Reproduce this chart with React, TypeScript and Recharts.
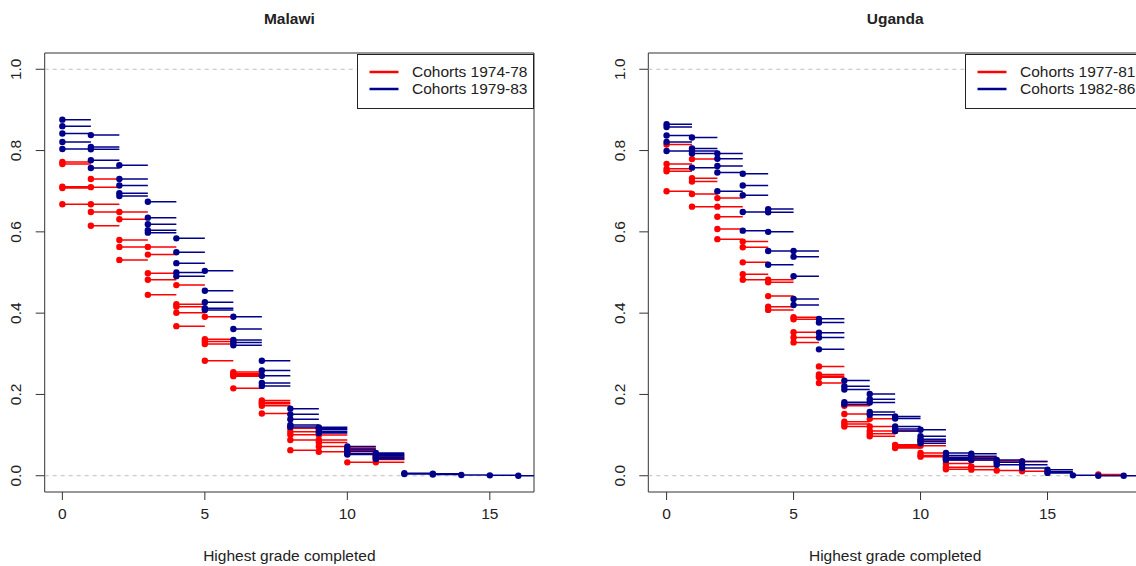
import React from 'react';
import { ComposedChart, Line, XAxis, YAxis, ReferenceLine, ReferenceArea, Legend } from 'recharts';

const FONT = "'Liberation Sans', Arial, Helvetica, sans-serif";

// Survival proportions by highest grade completed (index = grade), one value per birth-year cohort
const malawiOlder: number[][] = [
  [0.772, 0.767, 0.711, 0.708, 0.668],
  [0.730, 0.710, 0.668, 0.649, 0.615],
  [0.649, 0.631, 0.580, 0.563, 0.531],
  [0.563, 0.544, 0.498, 0.482, 0.445],
  [0.469, 0.422, 0.416, 0.401, 0.368],
  [0.391, 0.336, 0.330, 0.324, 0.283],
  [0.255, 0.251, 0.248, 0.245, 0.215],
  [0.185, 0.180, 0.177, 0.172, 0.153],
  [0.117, 0.108, 0.101, 0.088, 0.063],
  [0.100, 0.088, 0.082, 0.072, 0.059],
  [0.068, 0.064, 0.060, 0.055, 0.033],
  [0.052, 0.048, 0.044, 0.040, 0.033],
];
const malawiYounger: number[][] = [
  [0.876, 0.860, 0.842, 0.821, 0.804],
  [0.838, 0.809, 0.803, 0.776, 0.757],
  [0.764, 0.730, 0.714, 0.695, 0.688],
  [0.674, 0.635, 0.619, 0.604, 0.598],
  [0.584, 0.550, 0.523, 0.500, 0.491],
  [0.504, 0.455, 0.427, 0.412, 0.408],
  [0.391, 0.361, 0.334, 0.328, 0.321],
  [0.283, 0.259, 0.246, 0.228, 0.221],
  [0.165, 0.151, 0.139, 0.125, 0.120],
  [0.119, 0.116, 0.113, 0.108, 0.105],
  [0.072, 0.066, 0.060, 0.055, 0.052],
  [0.056, 0.052, 0.049, 0.045, 0.041],
  [0.006, 0.004],
  [0.005, 0.003],
  [0.002],
  [0.001],
  [0.0],
];
const ugandaOlder: number[][] = [
  [0.815, 0.767, 0.755, 0.749, 0.700],
  [0.779, 0.732, 0.724, 0.693, 0.662],
  [0.683, 0.662, 0.637, 0.607, 0.582],
  [0.576, 0.562, 0.525, 0.496, 0.482],
  [0.482, 0.476, 0.442, 0.416, 0.408],
  [0.390, 0.385, 0.353, 0.340, 0.328],
  [0.269, 0.249, 0.245, 0.242, 0.228],
  [0.172, 0.152, 0.133, 0.127, 0.121],
  [0.140, 0.121, 0.110, 0.103, 0.097],
  [0.110, 0.076, 0.074, 0.071, 0.068],
  [0.088, 0.074, 0.056, 0.050, 0.047],
  [0.045, 0.039, 0.030, 0.021, 0.016],
  [0.045, 0.039, 0.023, 0.015],
  [0.036, 0.013],
  [0.035, 0.011],
  [],
  [],
  [0.003],
];
const ugandaYounger: number[][] = [
  [0.865, 0.858, 0.837, 0.821, 0.799],
  [0.832, 0.805, 0.799, 0.793, 0.758],
  [0.793, 0.780, 0.762, 0.746, 0.700],
  [0.743, 0.714, 0.690, 0.649, 0.603],
  [0.656, 0.648, 0.600, 0.553, 0.519],
  [0.553, 0.539, 0.491, 0.435, 0.420],
  [0.386, 0.377, 0.352, 0.340, 0.311],
  [0.234, 0.220, 0.212, 0.181, 0.176],
  [0.201, 0.188, 0.180, 0.157, 0.150],
  [0.146, 0.141, 0.121, 0.115, 0.110],
  [0.113, 0.097, 0.090, 0.085, 0.080],
  [0.056, 0.050, 0.045, 0.042, 0.039],
  [0.054, 0.048, 0.043, 0.039],
  [0.039, 0.033, 0.027],
  [0.035, 0.027, 0.019],
  [0.015, 0.010, 0.007],
  [0.001],
  [0.0],
  [0.0],
];

const malawiLabels = ['Cohorts 1974-78', 'Cohorts 1979-83'];
const ugandaLabels = ['Cohorts 1977-81', 'Cohorts 1982-86'];
const xTicks = [0, 5, 10, 15];
const yTicks = [0, 0.2, 0.4, 0.6, 0.8, 1.0];

const RED = '#FF0000';
const BLUE = '#00008B';

type Pt = { x: number; y: number | null; dot: boolean };

function segs(values: number[][]): Pt[] {
  const out: Pt[] = [];
  values.forEach((vals, g) => {
    vals.forEach((v) => {
      out.push({ x: g, y: v, dot: true });
      out.push({ x: g + 1, y: v, dot: false });
      out.push({ x: g + 1, y: null, dot: false });
    });
  });
  return out;
}

const makeDot = (color: string) => (props: any) => {
  const { cx, cy, payload, index } = props;
  if (!payload || !payload.dot || cx == null || cy == null) return <g key={`e${index}`} />;
  return <circle key={`d${index}`} cx={cx} cy={cy} r={3.2} fill={color} stroke="none" />;
};

const YTick = (props: any) => {
  const { x, y, payload } = props;
  const bx = x - 14.5;
  return (
    <text x={bx} y={y} transform={`rotate(-90 ${bx} ${y})`} textAnchor="middle" fontSize={15.5} fill="#222" fontFamily={FONT}>
      {Number(payload.value).toFixed(1)}
    </text>
  );
};

const LegendBox = ({ labels }: { labels: string[] }) => (
  <svg width={177} height={55} style={{ display: 'block' }}>
    <rect x={0.5} y={0.5} width={176} height={54} fill="#fff" stroke="#222" strokeWidth={1} />
    <line x1={12.5} x2={41.5} y1={18} y2={18} stroke={RED} strokeWidth={2.5} />
    <line x1={12.5} x2={41.5} y1={35} y2={35} stroke={BLUE} strokeWidth={2.5} />
    <text x={55} y={18} dy="0.35em" fontSize={15.5} fill="#222" fontFamily={FONT}>{labels[0]}</text>
    <text x={55} y={35} dy="0.35em" fontSize={15.5} fill="#222" fontFamily={FONT}>{labels[1]}</text>
  </svg>
);

type PanelProps = {
  title: string;
  older: number[][];
  younger: number[][];
  labels: string[];
  xDomain: [number, number];
  chartLeft: number;
  chartWidth: number;
  axisWidth: number;
  rightMargin: number;
};

function Panel({ title, older, younger, labels, xDomain, chartLeft, chartWidth, axisWidth, rightMargin }: PanelProps) {
  const plotLeft = axisWidth;
  const plotRight = chartWidth - rightMargin;
  const legendW = 177;
  return (
    <div style={{ position: 'absolute', left: chartLeft, top: 0, width: chartWidth, height: 566 }}>
      <div style={{ position: 'absolute', left: plotLeft, width: plotRight - plotLeft, top: 10, textAlign: 'center', fontWeight: 'bold', fontSize: 15.5, lineHeight: '18px', color: '#222', fontFamily: FONT }}>
        {title}
      </div>
      <div style={{ position: 'absolute', left: plotLeft, width: plotRight - plotLeft, top: 547, textAlign: 'center', fontSize: 15.5, lineHeight: '18px', color: '#222', fontFamily: FONT }}>
        Highest grade completed
      </div>
      <ComposedChart width={chartWidth} height={566} margin={{ top: 53, right: rightMargin, bottom: 44, left: 0 }}>
        <XAxis
          type="number"
          dataKey="x"
          domain={xDomain}
          allowDataOverflow
          ticks={xTicks}
          interval={0}
          tickSize={8}
          tickMargin={7.5}
          axisLine={false}
          tickLine={{ stroke: '#333' }}
          tick={{ fontSize: 15.5, fill: '#222', fontFamily: FONT }}
          height={30}
        />
        <YAxis
          type="number"
          domain={[-0.04, 1.04]}
          allowDataOverflow
          ticks={yTicks}
          interval={0}
          width={axisWidth}
          tickSize={9}
          tickMargin={0}
          axisLine={false}
          tickLine={{ stroke: '#333' }}
          tick={<YTick />}
        />
        <ReferenceLine y={1} stroke="#BEBEBE" strokeDasharray="4 4" strokeWidth={1} />
        <ReferenceLine y={0} stroke="#BEBEBE" strokeDasharray="4 4" strokeWidth={1} />
        <Line
          data={segs(older)}
          dataKey="y"
          stroke={RED}
          strokeWidth={1.5}
          connectNulls={false}
          dot={makeDot(RED)}
          activeDot={false}
          isAnimationActive={false}
          name={labels[0]}
        />
        <Line
          data={segs(younger)}
          dataKey="y"
          stroke={BLUE}
          strokeWidth={1.5}
          connectNulls={false}
          dot={makeDot(BLUE)}
          activeDot={false}
          isAnimationActive={false}
          name={labels[1]}
        />
        <ReferenceArea x1={xDomain[0]} x2={xDomain[1]} y1={-0.04} y2={1.04} fill="none" fillOpacity={0} stroke="#333" strokeWidth={1} />
        <Legend
          layout="vertical"
          align="center"
          verticalAlign="middle"
          content={() => <LegendBox labels={labels} />}
          wrapperStyle={{ position: 'absolute', left: plotRight - legendW, top: 54, width: legendW, height: 55 }}
        />
      </ComposedChart>
    </div>
  );
}

export default function App() {
  return (
    <div style={{ position: 'absolute', left: 0, top: 0, width: 1136, height: 566, overflow: 'hidden', background: '#fff', fontFamily: FONT }}>
      <Panel
        title="Malawi"
        older={malawiOlder}
        younger={malawiYounger}
        labels={malawiLabels}
        xDomain={[-0.62, 16.55]}
        chartLeft={0}
        chartWidth={568}
        axisWidth={44.7}
        rightMargin={34}
      />
      <Panel
        title="Uganda"
        older={ugandaOlder}
        younger={ugandaYounger}
        labels={ugandaLabels}
        xDomain={[-0.72, 18.72]}
        chartLeft={568}
        chartWidth={600}
        axisWidth={80.3}
        rightMargin={26}
      />
    </div>
  );
}
